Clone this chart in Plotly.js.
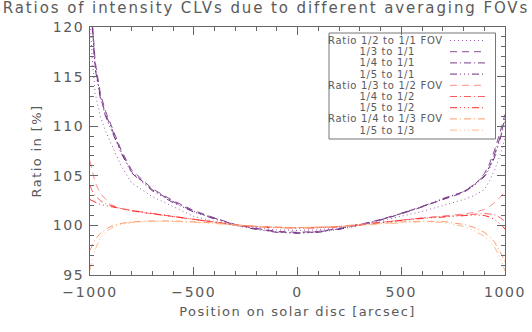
<!DOCTYPE html>
<html>
<head>
<meta charset="utf-8">
<script src="https://cdn.plot.ly/plotly-3.0.1.min.js"></script>
<style>
  body { margin: 0; background: #fff; }
  #chart { width: 532px; height: 332px; }
  #chart text { letter-spacing: 1px; }
  #chart text.gtitle { letter-spacing: 1.9px; }
  #chart .xtick text, #chart .ytick text { letter-spacing: 1.6px; }
  #chart text.xtitle, #chart text.ytitle { letter-spacing: 1.4px; }
  #chart text.annotation-text { letter-spacing: 0.7px; }
</style>
</head>
<body>
<div id="chart"></div>
<script>
// positions on the solar disc [arcsec]
const pos = [-1000, -990, -975, -950, -925, -900, -850, -800, -700, -600, -500, -400, -300, -200, -100,
             0, 100, 200, 300, 400, 500, 600, 700, 800, 850, 900, 925, 950, 975, 990, 1000];

// ratios to the 1/1 FOV [%]
const r12_11 = [121.0, 117.0, 113.3, 111.0, 109.5, 108.3, 106.0, 104.3, 102.9, 101.9, 100.9, 100.4, 100.0, 99.8, 99.55,
                99.5, 99.55, 99.8, 100.05, 100.45, 100.9, 101.4, 102.0, 102.6, 103.0, 103.6, 104.5, 105.6, 107.0, 108.0, 108.8];
const r13_11 = [126.0, 121.0, 116.5, 113.3, 111.5, 110.2, 107.6, 105.6, 103.7, 102.5, 101.5, 100.75, 100.1, 99.7, 99.4,
                99.3, 99.4, 99.7, 100.1, 100.6, 101.2, 101.9, 102.6, 103.3, 104.0, 105.2, 106.2, 107.6, 109.3, 110.4, 111.2];
const r14_11 = [125.0, 120.5, 116.0, 113.0, 111.2, 110.0, 107.4, 105.4, 103.6, 102.4, 101.4, 100.7, 100.05, 99.65, 99.35,
                99.25, 99.35, 99.65, 100.05, 100.55, 101.15, 101.85, 102.6, 103.4, 104.1, 105.0, 105.9, 107.2, 108.8, 109.9, 110.8];
const r15_11 = [124.5, 120.2, 115.8, 112.8, 111.0, 109.8, 107.3, 105.3, 103.5, 102.3, 101.35, 100.65, 100.0, 99.6, 99.3,
                99.2, 99.3, 99.6, 100.0, 100.55, 101.2, 101.9, 102.7, 103.4, 104.0, 104.9, 105.7, 106.9, 108.6, 109.6, 110.5];

// ratios to the 1/2 FOV [%]
const r13_12 = [106.5, 105.5, 104.3, 103.2, 102.6, 102.1, 101.7, 101.45, 101.15, 100.85, 100.6, 100.35, 100.05, 99.9, 99.8,
                99.78, 99.8, 99.9, 100.1, 100.35, 100.55, 100.75, 100.95, 101.15, 101.3, 101.6, 101.9, 102.3, 102.8, 103.1, 103.4];
const r14_12 = [104.0, 103.5, 103.0, 102.5, 102.2, 102.0, 101.7, 101.5, 101.2, 100.9, 100.6, 100.35, 100.05, 99.88, 99.78,
                99.75, 99.78, 99.88, 100.08, 100.3, 100.55, 100.75, 100.9, 101.05, 101.1, 101.2, 101.15, 101.05, 100.8, 100.6, 100.4];
const r15_12 = [102.6, 102.5, 102.3, 102.1, 102.0, 101.9, 101.7, 101.5, 101.2, 100.9, 100.6, 100.35, 100.02, 99.85, 99.75,
                99.72, 99.75, 99.85, 100.05, 100.3, 100.5, 100.7, 100.85, 101.0, 101.05, 101.0, 100.85, 100.6, 100.2, 99.9, 99.6];

// ratios to the 1/3 FOV [%]
const r14_13 = [97.5, 98.0, 98.6, 99.2, 99.6, 99.9, 100.2, 100.35, 100.45, 100.45, 100.35, 100.25, 100.05, 99.9, 99.8,
                99.78, 99.8, 99.88, 100.02, 100.2, 100.35, 100.42, 100.4, 100.1, 99.8, 99.3, 98.9, 98.3, 97.4, 96.8, 96.3];
const r15_13 = [95.5, 96.5, 97.6, 98.7, 99.3, 99.7, 100.1, 100.3, 100.4, 100.4, 100.3, 100.2, 100.0, 99.85, 99.75,
                99.72, 99.75, 99.85, 100.0, 100.15, 100.3, 100.38, 100.3, 99.9, 99.5, 98.9, 98.4, 97.8, 96.8, 96.0, 95.4];

const series = [r12_11, r13_11, r14_11, r15_11, r13_12, r14_12, r15_12, r14_13, r15_13];
const labels = ['Ratio 1/2 to 1/1 FOV', '1/3 to 1/1', '1/4 to 1/1', '1/5 to 1/1',
                'Ratio 1/3 to 1/2 FOV', '1/4 to 1/2', '1/5 to 1/2',
                'Ratio 1/4 to 1/3 FOV', '1/5 to 1/3'];
const colors = ['#9a5aaa', '#8a4a9a', '#7a3a8c', '#70307f',
                '#ff8c8c', '#ff5c5c', '#ff2a2a',
                '#ff9a66', '#ffb98a'];

const DOT = '1px,3px';
const DASH = '7px,5px';
const DASHDOT = '7px,3px,1px,3px';
const DASH3DOT = '7px,3px,1px,3px,1px,3px,1px,3px';
const dashes = [DOT, DASH, DASHDOT, DASH3DOT, DASH, DASHDOT, DASH3DOT, DASHDOT, DASH3DOT];

const txt = '#5a5a5a';
const fnt = 'DejaVu Sans, sans-serif';

let traces = series.map(function(y, i) {
    return {
        x: pos,
        y: y,
        mode: 'lines',
        name: labels[i],
        line: {color: colors[i], width: 1, dash: dashes[i]},
        showlegend: false
    };
});

// hand-made legend: text on the left, line sample on the right (paper coords)
const L = 90, T = 27, W = 415, H = 248;
function px(x) { return (x - L) / W; }
function py(y) { return (T + H - y) / H; }

let annotations = [];
let shapes = [];
const row0 = 40.5, rowStep = 11.2;
labels.forEach(function(lab, i) {
    const yy = row0 + rowStep * i;
    const head = lab.indexOf('Ratio') === 0;
    annotations.push({
        xref: 'paper', yref: 'paper',
        x: px(head ? 333 : 361), y: py(yy),
        xanchor: 'left', yanchor: 'middle',
        text: lab, showarrow: false,
        font: {family: fnt, size: 10, color: txt}
    });
    shapes.push({
        type: 'line', xref: 'paper', yref: 'paper',
        x0: px(450), x1: px(486), y0: py(yy), y1: py(yy),
        line: {color: colors[i], width: 1, dash: dashes[i]}
    });
});
shapes.push({
    type: 'rect', xref: 'paper', yref: 'paper',
    x0: px(329), x1: px(495.5), y0: py(33), y1: py(139),
    line: {color: '#777', width: 1}, fillcolor: 'rgba(0,0,0,0)'
});

const axisCommon = {
    showline: true,
    linecolor: '#666',
    linewidth: 1,
    mirror: 'allticks',
    ticks: 'inside',
    tickcolor: '#666',
    ticklen: 8,
    tickwidth: 1,
    showgrid: false,
    zeroline: false,
    tickfont: {family: fnt, size: 14, color: txt}
};

var layout = {
    width: 532,
    height: 332,
    margin: {l: L, r: 532 - L - W, t: T, b: 332 - T - H},
    paper_bgcolor: '#fff',
    plot_bgcolor: '#fff',
    title: {
        text: 'Ratios of intensity CLVs due to different averaging FOVs',
        font: {family: fnt, size: 15, color: txt},
        x: 0.5, xanchor: 'center', y: 0.978, yanchor: 'middle'
    },
    xaxis: Object.assign({}, axisCommon, {
        range: [-1000, 1000],
        tickvals: [-1000, -500, 0, 500, 1000],
        ticktext: ['\u22121000', '\u2212500', '0', '500', '1000'],
        ticklabelstandoff: 4,
        minor: {ticks: 'inside', dtick: 100, tick0: 0, ticklen: 4, tickcolor: '#666', showgrid: false},
        title: {text: 'Position on solar disc [arcsec]', font: {family: fnt, size: 13, color: txt}, standoff: 8}
    }),
    yaxis: Object.assign({}, axisCommon, {
        range: [95, 120],
        tickvals: [95, 100, 105, 110, 115, 120],
        ticklabelstandoff: 2,
        minor: {ticks: 'inside', dtick: 1, tick0: 95, ticklen: 4, tickcolor: '#666', showgrid: false},
        title: {text: 'Ratio in [%]', font: {family: fnt, size: 13, color: txt}, standoff: 12}
    }),
    annotations: annotations,
    shapes: shapes
};

Plotly.newPlot('chart', traces, layout, {staticPlot: true, displayModeBar: false});
</script>
</body>
</html>
